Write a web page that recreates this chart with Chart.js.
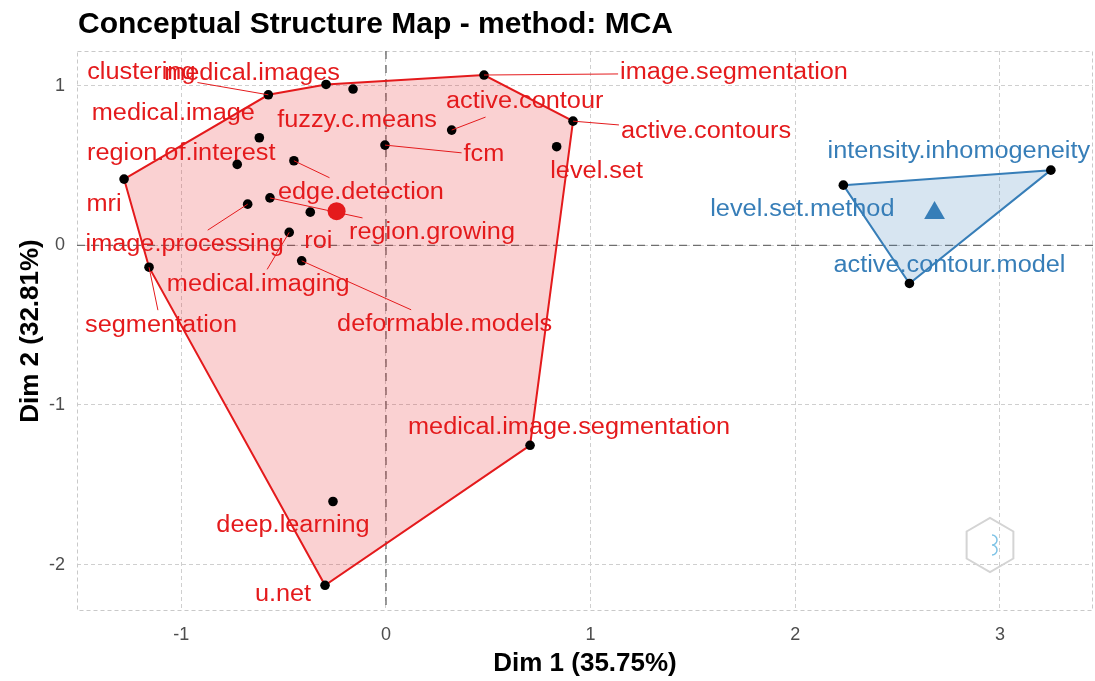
<!DOCTYPE html>
<html>
<head>
<meta charset="utf-8">
<script src="https://cdn.jsdelivr.net/npm/chart.js@4.4.1/dist/chart.umd.min.js"></script>
<style>
  html, body { margin: 0; padding: 0; background: #fff; overflow: hidden; }
  canvas { display: block; }
</style>
</head>
<body>
<canvas id="mapChart" width="1095" height="681"></canvas>
<script>
// cluster 1 (red)
const redTerms = ['mri', 'segmentation', 'u.net', 'medical.image.segmentation', 'active.contours',
  'image.segmentation', 'clustering', 'medical.images', 'fuzzy.c.means', 'medical.image',
  'region.of.interest', 'edge.detection', 'fcm', 'active.contour', 'level.set',
  'image.processing', 'region.growing', 'roi', 'medical.imaging', 'deformable.models', 'deep.learning'];
const redX = [-1.28, -1.158, -0.298, 0.704, 0.914, 0.479, -0.575, -0.293, -0.161, -0.619,
  -0.727, -0.45, -0.005, 0.321, 0.834, -0.676, -0.567, -0.37, -0.473, -0.412, -0.259];
const redY = [0.415, -0.137, -2.13, -1.253, 0.778, 1.067, 0.943, 1.008, 0.979, 0.674,
  0.507, 0.53, 0.628, 0.722, 0.618, 0.258, 0.297, 0.208, 0.081, -0.097, -1.605];

// cluster 2 (blue)
const blueTerms = ['level.set.method', 'intensity.inhomogeneity', 'active.contour.model'];
const blueX = [2.235, 3.249, 2.558];
const blueY = [0.377, 0.471, -0.239];

const xTicks = [-1, 0, 1, 2, 3];
const yTicks = [-2, -1, 0, 1];

// where each label sits relative to its point, in px: [dx, dy, draw segment]
const redLabelPos = [[-20, 26, 0], [12, 58, 1], [-42, 9, 0], [39, -18, 0], [133, 11, 1],
  [250, -2, 1], [-127, -22, 1], [-74, -11, 0], [4, 32, 0], [-86, -24, 0],
  [-56, -11, 0], [67, 32, 1], [99, 10, 1], [73, -28, 1], [40, 25, 0],
  [-63, 41, 1], [162, 35, 1], [8, 30, 0], [-31, 52, 1], [143, 64, 1], [-40, 24, 0]];
const blueLabelPos = [[-41, 25, 0], [-92, -18, 0], [40, -18, 0]];

const RED = '#E41A1C';
const BLUE = '#377EB8';
const FONT = '"Liberation Sans", Arial, sans-serif';

const toPoints = (xs, ys) => xs.map((v, i) => ({ x: v, y: ys[i] }));

// monotone chain convex hull, returned closed
function hull(pts) {
  const p = pts.slice().sort((a, b) => a.x - b.x || a.y - b.y);
  const cross = (o, a, b) => (a.x - o.x) * (b.y - o.y) - (a.y - o.y) * (b.x - o.x);
  const lower = [], upper = [];
  for (const q of p) {
    while (lower.length >= 2 && cross(lower[lower.length - 2], lower[lower.length - 1], q) <= 0) lower.pop();
    lower.push(q);
  }
  for (let i = p.length - 1; i >= 0; i--) {
    const q = p[i];
    while (upper.length >= 2 && cross(upper[upper.length - 2], upper[upper.length - 1], q) <= 0) upper.pop();
    upper.push(q);
  }
  upper.pop(); lower.pop();
  const h = lower.concat(upper);
  h.push(h[0]);
  return h;
}

const mean = a => a.reduce((s, v) => s + v, 0) / a.length;

const redPts = toPoints(redX, redY);
const bluePts = toPoints(blueX, blueY);

function drawLabels(chart, terms, xs, ys, pos, color) {
  const { ctx, scales: { x, y } } = chart;
  const stretch = 1.1;
  ctx.save();
  ctx.font = '23px ' + FONT;
  ctx.textAlign = 'center';
  ctx.textBaseline = 'middle';
  ctx.strokeStyle = color;
  ctx.fillStyle = color;
  ctx.lineWidth = 1;
  terms.forEach((t, i) => {
    const px = x.getPixelForValue(xs[i]);
    const py = y.getPixelForValue(ys[i]);
    const [dx, dy, seg] = pos[i];
    const lx = px + dx, ly = py + dy;
    if (seg) {
      const hw = ctx.measureText(t).width * stretch / 2 + 2, hh = 15;
      const s = Math.min(dx ? hw / Math.abs(dx) : Infinity, dy ? hh / Math.abs(dy) : Infinity);
      if (s < 1) {
        ctx.beginPath();
        ctx.moveTo(px, py);
        ctx.lineTo(lx - dx * s, ly - dy * s);
        ctx.stroke();
      }
    }
    ctx.save();
    ctx.translate(lx, ly);
    ctx.scale(stretch, 1);
    ctx.fillText(t, 0, 0);
    ctx.restore();
  });
  ctx.restore();
}

const decor = {
  id: 'decor',
  beforeDatasetsDraw(chart) {
    const { ctx, chartArea: a, scales: { x, y } } = chart;
    ctx.save();
    // panel border
    ctx.strokeStyle = '#c9c9c9';
    ctx.lineWidth = 1;
    ctx.setLineDash([4, 3]);
    ctx.strokeRect(a.left + 0.5, a.top + 0.5, a.width - 1, a.height - 1);
    // zero lines
    ctx.strokeStyle = '#6f6f6f';
    ctx.lineWidth = 1.4;
    ctx.setLineDash([8, 6]);
    const x0 = x.getPixelForValue(0), y0 = y.getPixelForValue(0);
    ctx.beginPath();
    ctx.moveTo(x0, a.top); ctx.lineTo(x0, a.bottom);
    ctx.moveTo(a.left, y0); ctx.lineTo(a.right, y0);
    ctx.stroke();
    // watermark hexagon
    const cx = a.right - 103, cy = a.bottom - 66, r = 27;
    ctx.setLineDash([]);
    ctx.strokeStyle = '#d4d4d4';
    ctx.lineWidth = 2;
    ctx.beginPath();
    for (let k = 0; k < 6; k++) {
      const ang = Math.PI / 6 + k * Math.PI / 3;
      const hx = cx + r * Math.cos(ang), hy = cy + r * Math.sin(ang);
      k ? ctx.lineTo(hx, hy) : ctx.moveTo(hx, hy);
    }
    ctx.closePath();
    ctx.stroke();
    ctx.strokeStyle = '#7ec3e6';
    ctx.lineWidth = 1.5;
    ctx.beginPath();
    ctx.arc(cx + 2, cy - 5, 5, -Math.PI / 2, Math.PI / 2);
    ctx.arc(cx + 2, cy + 5, 5, -Math.PI / 2, Math.PI / 2);
    ctx.stroke();
    ctx.restore();
  },
  afterDatasetsDraw(chart) {
    drawLabels(chart, redTerms, redX, redY, redLabelPos, RED);
    drawLabels(chart, blueTerms, blueX, blueY, blueLabelPos, BLUE);
  },
  afterDraw(chart) {
    const { ctx, chartArea: a } = chart;
    ctx.save();
    ctx.font = 'bold 30px ' + FONT;
    ctx.fillStyle = '#000';
    ctx.textBaseline = 'alphabetic';
    ctx.fillText('Conceptual Structure Map - method: MCA', a.left + 1, 33);
    ctx.restore();
  }
};

const ctxMap = document.getElementById('mapChart').getContext('2d');
const mapChart = new Chart(ctxMap, {
  type: 'scatter',
  data: {
    datasets: [
      {
        data: hull(redPts),
        showLine: true,
        fill: 'shape',
        borderColor: RED,
        backgroundColor: 'rgba(228, 26, 28, 0.2)',
        borderWidth: 2,
        pointRadius: 0,
        tension: 0,
        order: 3
      },
      {
        data: hull(bluePts),
        showLine: true,
        fill: 'shape',
        borderColor: BLUE,
        backgroundColor: 'rgba(55, 126, 184, 0.2)',
        borderWidth: 2,
        pointRadius: 0,
        tension: 0,
        order: 3
      },
      {
        data: redPts.concat(bluePts),
        pointRadius: 4.8,
        pointBackgroundColor: '#000',
        pointBorderColor: '#000',
        pointBorderWidth: 0,
        order: 1
      },
      {
        data: [{ x: mean(redX), y: mean(redY) }],
        pointRadius: 9,
        pointBackgroundColor: RED,
        pointBorderWidth: 0,
        order: 0
      },
      {
        data: [{ x: mean(blueX), y: mean(blueY) }],
        pointStyle: 'triangle',
        pointRadius: 12,
        pointBackgroundColor: BLUE,
        pointBorderWidth: 0,
        order: 0
      }
    ]
  },
  options: {
    responsive: false,
    animation: false,
    layout: { autoPadding: false, padding: { top: 51, right: 2, left: 0, bottom: 0 } },
    scales: {
      x: {
        type: 'linear',
        min: -1.51,
        max: 3.455,
        afterFit: s => { s.height = 70; },
        afterBuildTicks: s => { s.ticks = xTicks.map(v => ({ value: v })); },
        ticks: { color: '#4d4d4d', font: { family: FONT, size: 18 }, padding: 13 },
        grid: { color: '#cfcfcf', drawTicks: false },
        border: { display: false, dash: [4, 3] },
        title: {
          display: true,
          text: 'Dim 1 (35.75%)',
          color: '#000',
          font: { family: FONT, size: 26, weight: 'bold' },
          padding: { top: 0, bottom: 2 }
        }
      },
      y: {
        type: 'linear',
        min: -2.291,
        max: 1.2175,
        afterFit: s => { s.width = 77; },
        afterBuildTicks: s => { s.ticks = yTicks.map(v => ({ value: v })); },
        ticks: { color: '#4d4d4d', font: { family: FONT, size: 18 }, padding: 12 },
        grid: { color: '#cfcfcf', drawTicks: false },
        border: { display: false, dash: [4, 3] },
        title: {
          display: true,
          text: 'Dim 2 (32.81%)',
          color: '#000',
          font: { family: FONT, size: 26, weight: 'bold' },
          padding: { top: 15, bottom: 0 }
        }
      }
    },
    plugins: {
      legend: { display: false },
      tooltip: { enabled: false }
    }
  },
  plugins: [decor]
});
</script>
</body>
</html>
